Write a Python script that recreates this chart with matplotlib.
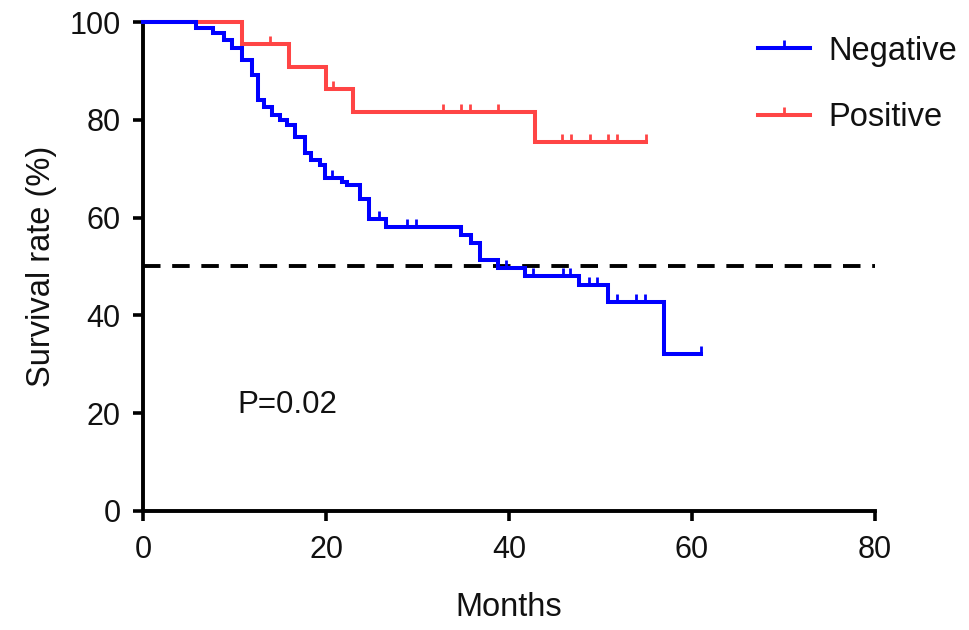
import numpy as np
import matplotlib
matplotlib.use("Agg")
import matplotlib.pyplot as plt
from matplotlib.lines import Line2D

plt.rcParams['font.family'] = ['Liberation Sans', 'DejaVu Sans']

# ---- Data ----
# Negative group: step times (months) and survival (%) after each step
neg_times = [0, 5.8, 7.7, 8.8, 9.7, 10.8, 11.9, 12.6, 13.2, 14.1, 15.0, 15.7, 16.6,
             17.7, 18.4, 19.3, 19.9, 21.7, 22.3, 23.7, 24.7, 26.6, 34.8, 35.8, 36.8,
             38.8, 41.7, 47.6, 50.8, 56.9]
neg_surv = [100, 98.8, 97.7, 96.3, 94.6, 92.2, 89.2, 84.0, 82.7, 81.0, 80.0, 78.9, 76.5,
            73.2, 71.8, 70.8, 68.0, 67.3, 66.7, 63.9, 59.8, 58.1, 56.4, 54.9, 51.3,
            49.6, 48.1, 46.3, 42.7, 32.1]
neg_end = 61.0
neg_censor = [20.7, 25.8, 28.8, 29.8, 39.7, 42.6, 45.9, 46.7, 48.7, 49.6, 51.8, 53.9, 54.9, 61.0]

# Positive group
pos_times = [0, 10.8, 15.9, 20.0, 23.0, 42.8]
pos_surv = [100, 95.5, 90.9, 86.4, 81.6, 75.4]
pos_end = 55.0
pos_censor = [13.9, 20.8, 32.8, 34.8, 35.7, 38.8, 45.8, 46.8, 48.9, 50.8, 51.8, 55.0]

labels = ['Negative', 'Positive']
colors = ['#0000FF', '#FF4545']
median_line = 50
p_text = 'P=0.02'
xticks = [0, 20, 40, 60, 80]
yticks = [0, 20, 40, 60, 80, 100]

# ---- Plot ----
fig = plt.figure(figsize=(9.69, 6.30), dpi=100)
ax = fig.add_axes([0.1476, 0.189, 0.903 - 0.1476, 0.965 - 0.189])

tick_marker = [(0, 0), (0, 1)]
LW = 2.9
MS = 11
MEW = 2.0


def draw_km(times, surv, end, censor, color, z):
    t = np.array(list(times) + [end])
    s = np.array(list(surv) + [surv[-1]])
    ax.step(t, s, where='post', color=color, lw=LW, clip_on=False, zorder=z,
            solid_joinstyle='miter')
    c = np.array(censor)
    idx = np.searchsorted(np.array(times), c, side='right') - 1
    cs = np.array(surv)[idx]
    ax.plot(c, cs, linestyle='none', marker=tick_marker, markersize=MS,
            markeredgewidth=MEW, color=color, clip_on=False, zorder=z)


draw_km(pos_times, pos_surv, pos_end, pos_censor, colors[1], 3)
draw_km(neg_times, neg_surv, neg_end, neg_censor, colors[0], 4)

ax.plot([0, 80], [median_line, median_line], color='black', lw=2.8,
        dashes=(4.5, 3.0), zorder=2, clip_on=False)

ax.text(10.3, 21.7, p_text, fontsize=22.5, va='center', ha='left', color='#111111')

ax.set_xlim(0, 80)
ax.set_ylim(0, 100)
ax.set_xticks(xticks)
ax.set_yticks(yticks)
ax.tick_params(axis='both', labelsize=22, width=2.6, length=7, direction='out',
               colors='black', labelcolor='#111111')
ax.tick_params(axis='y', pad=9)
ax.tick_params(axis='x', pad=10)
for side in ['top', 'right']:
    ax.spines[side].set_visible(False)
for side in ['left', 'bottom']:
    ax.spines[side].set_linewidth(2.8)

ax.set_xlabel('Months', fontsize=23.5, labelpad=20, color='#111111')
ax.set_ylabel('Survival rate (%)', fontsize=23.5, labelpad=9, color='#111111')

handles = [Line2D([], [], color=colors[0], lw=LW, marker=tick_marker, markersize=MS,
                  markeredgewidth=MEW),
           Line2D([], [], color=colors[1], lw=LW, marker=tick_marker, markersize=MS,
                  markeredgewidth=MEW)]
leg = fig.legend(handles, labels, loc='upper left', bbox_to_anchor=(0.782, 0.943),
                 frameon=False, fontsize=23.5, handlelength=1.6, handletextpad=0.55,
                 labelspacing=1.08, borderpad=0, borderaxespad=0)
for t in leg.get_texts():
    t.set_color('#111111')

fig.savefig('out.png', dpi=100)
